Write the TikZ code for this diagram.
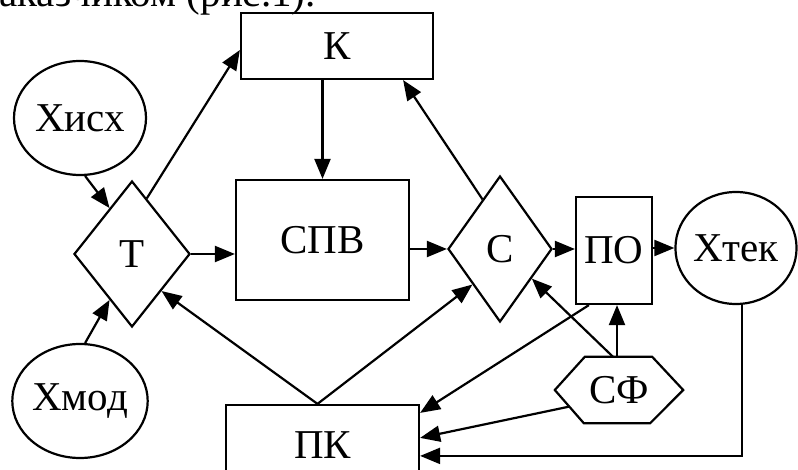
\documentclass[tikz,border=0pt]{standalone}
\usepackage{fontspec}
\setmainfont{Liberation Serif}
\usetikzlibrary{shapes.geometric,arrows.meta,calc}
\begin{document}
\begin{tikzpicture}[x=1pt,y=-1pt,
  every node/.style={font=\fontsize{41}{44}\selectfont},
  box/.style={draw,line width=2.2pt,rectangle,inner sep=0pt},
  dia/.style={draw,line width=2.2pt,diamond,inner sep=0pt},
  oval/.style={draw,line width=2.2pt,ellipse,inner sep=0pt},
  arr/.style={line width=2.2pt,arrows={-Triangle[length=20pt,width=16pt]}},
  hex/.style={line width=2.2pt,line join=miter}]
\useasboundingbox (0,0) rectangle (798,470);
\clip (0,0) rectangle (798,470);
\node[anchor=base east,inner sep=0pt] (cap) at (316,7) {заказчиком (рис.1).};
\node[box,minimum width=192pt,minimum height=66pt] (K) at (337,46) {К};
\node[box,minimum width=173pt,minimum height=120pt] (SPV) at (322.5,240) {СПВ};
\node[box,minimum width=76pt,minimum height=107pt] (PO) at (614,250.5) {ПО};
\node[box,minimum width=193pt,minimum height=80pt] (PK) at (322.5,445) {ПК};
\node[dia,minimum width=116pt,minimum height=146pt] (T) at (132,254) {Т};
\node[dia,minimum width=104pt,minimum height=146pt] (C) at (500,249) {С};
\node[oval,minimum width=132pt,minimum height=114pt] (Xisx) at (80,118) {Хисх};
\node[oval,minimum width=132pt,minimum height=114pt] (Xmod) at (80,401) {Хмод};
\node[oval,minimum width=120pt,minimum height=112pt] (Xtek) at (736,248) {Хтек};
\node[minimum width=128pt,minimum height=66pt,inner sep=0pt] (SF) at (619,390) {СФ};
\coordinate (sftl) at ($(SF.north west)+(30,0)$);
\coordinate (sftr) at ($(SF.north east)+(-31,0)$);
\coordinate (sfbr) at ($(SF.south east)+(-33,0)$);
\coordinate (sfbl) at ($(SF.south west)+(29,0)$);
\draw[hex] (SF.west) -- (sftl) -- (sftr) -- (SF.east) -- (sfbr) -- (sfbl) -- cycle;
% connectors
\draw[arr] (SPV.north |- K.south) -- (SPV.north);
\draw[arr] ($(T.north)!0.25!(T.east)$) -- ($(K.west)+(0,4)$);
\draw[arr] (Xisx.-85) -- ($(T.north)!0.38!(T.west)$);
\draw[arr] (Xmod.85) -- ($(T.south)!0.38!(T.west)$);
\draw[arr] (T.east) -- (T.east -| SPV.west);
\draw[arr] (SPV.east |- C.west) -- (C.west);
\draw[arr] ($(C.north)!0.33!(C.west)$) -- ($(K.south east)+(-31,0)$);
\draw[arr] (C.east) -- (C.east -| PO.west);
\draw[arr] (PO.east |- Xtek.west) -- (Xtek.west);
\coordinate (pktop) at ($(PK.north)+(-5,0)$);
\draw[arr] (pktop) -- ($(T.south)!0.5!(T.east)$);
\draw[arr] (pktop) -- ($(C.south)!0.52!(C.west)$);
\coordinate (sfa) at ($(SF.north)+(-2,0)$);
\draw[arr] (sfa) -- (sfa |- PO.south);
\draw[arr] ($(SF.north)+(-6,0)$) -- ($(C.south)!0.6!(C.east)$);
\draw[arr] ($(PO.south west)+(14,0)$) -- ($(PK.north east)+(0,9)$);
\draw[arr] ($(SF.west)!0.5!(sfbl)$) -- ($(PK.north east)+(0,34)$);
\draw[arr] (Xtek.-84) |- ($(PK.north east)+(0,52)$);
\end{tikzpicture}
\end{document}
